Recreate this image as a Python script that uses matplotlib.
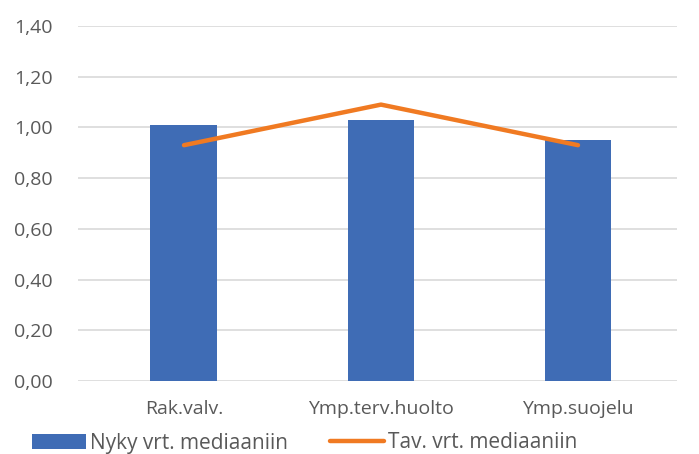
import matplotlib
matplotlib.use("Agg")
import matplotlib.pyplot as plt
import numpy as np

categories = ["Rak.valv.", "Ymp.terv.huolto", "Ymp.suojelu"]
nyky = [1.01, 1.03, 0.95]
tav = [0.93, 1.09, 0.93]
yticks = [0.0, 0.2, 0.4, 0.6, 0.8, 1.0, 1.2, 1.4]

plt.rcParams['font.family'] = ['Open Sans', 'DejaVu Sans']
fig = plt.figure(figsize=(6.99, 4.54), dpi=100)
ax = fig.add_axes([78/699, 73/454, 598.5/699, 355/454])

x = np.arange(len(categories))
bars = ax.bar(x, nyky, width=0.34, color="#3F6CB5", label="Nyky vrt. mediaaniin", zorder=2)
line, = ax.plot(x, tav, color="#F07A22", linewidth=3.2, solid_capstyle="round",
                label="Tav. vrt. mediaaniin", zorder=3)

ax.set_xlim(-0.538, 2.5)
ax.set_ylim(0, 1.4)
ax.set_yticks(yticks)
ax.set_yticklabels([f"{v:.2f}".replace(".", ",") for v in yticks])
ax.set_xticks(x)
ax.set_xticklabels(categories)
for s in ax.spines.values():
    s.set_visible(False)
ax.grid(axis="y", color="#d9d9d9", linewidth=1.2, zorder=0)
ax.tick_params(axis="both", length=0, labelsize=14, colors="#595959")
ax.tick_params(axis="y", pad=18)
ax.tick_params(axis="x", pad=14)

leg = fig.legend(handles=[bars, line], loc="center left",
                 bbox_to_anchor=(32/699, 1 - 443/454), ncol=2, frameon=False,
                 fontsize=15, labelcolor="#595959", handlelength=2.6, handletextpad=0.2,
                 columnspacing=2.0, borderpad=0, borderaxespad=0)

fig.savefig("out.png", dpi=100)
